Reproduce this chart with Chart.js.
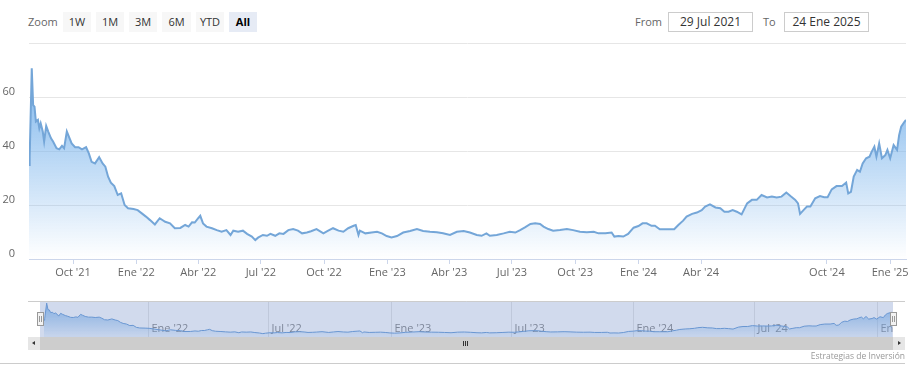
<!DOCTYPE html>
<html><head><meta charset="utf-8">
<script src="https://cdn.jsdelivr.net/npm/chart.js@4.4.0/dist/chart.umd.min.js"></script>
<style>
html,body{margin:0;padding:0;background:#fff;}
body{width:915px;height:375px;position:relative;overflow:hidden;font-family:"Open Sans",sans-serif;}
.abs{position:absolute;}
.lbl{top:12px;font-size:11px;color:#666;line-height:20px;}
.btn{top:12px;height:20px;background:#f7f7f7;color:#333;font-size:11px;line-height:20px;text-align:center;}
.btn.sel{background:#e6ebf5;color:#000;font-weight:bold;}
.inp{top:12px;height:18px;border:1px solid #ccc;font-size:12px;color:#333;line-height:18px;text-align:center;background:#fff;}
#main{position:absolute;left:0;top:0;}
#nav{position:absolute;left:0;top:301px;}
.handle{position:absolute;top:312px;width:5px;height:12px;background:#f2f2f2;border:1px solid #999;}
.handle i{position:absolute;top:3px;width:1px;height:6px;background:#999;}
.sb{position:absolute;top:337px;height:13px;}
</style></head><body>
<div class="abs lbl" style="left:28px">Zoom</div>
<div class="abs btn" style="left:63px;width:28px">1W</div>
<div class="abs btn" style="left:96px;width:28px">1M</div>
<div class="abs btn" style="left:129px;width:28px">3M</div>
<div class="abs btn" style="left:162px;width:29px">6M</div>
<div class="abs btn" style="left:196px;width:28px">YTD</div>
<div class="abs btn sel" style="left:229px;width:28px">All</div>
<div class="abs lbl" style="left:635px">From</div>
<div class="abs inp" style="left:668px;width:83px">29 Jul 2021</div>
<div class="abs lbl" style="left:763px">To</div>
<div class="abs inp" style="left:784px;width:83px">24 Ene 2025</div>

<canvas id="main" width="915" height="290"></canvas>
<canvas id="nav" width="915" height="36"></canvas>

<div class="handle" style="left:37px"><i style="left:1px"></i><i style="left:3px"></i></div>
<div class="handle" style="left:890px"><i style="left:1px"></i><i style="left:3px"></i></div>

<div class="sb" style="left:28px;width:12px;background:#e6e6e6;"></div>
<div class="sb" style="left:40px;width:853px;background:#cdcdcd;"></div>
<div class="sb" style="left:893px;width:12px;background:#e6e6e6;"></div>
<div class="abs" style="left:32px;top:341px;width:0;height:0;border-top:2.5px solid transparent;border-bottom:2.5px solid transparent;border-right:3px solid #333;"></div>
<div class="abs" style="left:898px;top:341px;width:0;height:0;border-top:2.5px solid transparent;border-bottom:2.5px solid transparent;border-left:3px solid #333;"></div>
<div class="abs" style="left:463px;top:341px;width:1px;height:5px;background:#333"></div>
<div class="abs" style="left:465px;top:341px;width:1px;height:5px;background:#333"></div>
<div class="abs" style="left:467px;top:341px;width:1px;height:5px;background:#333"></div>

<div class="abs" style="right:10px;top:350px;font-size:8.5px;color:#999;line-height:11px;">Estrategias de Inversión</div>
<div class="abs" style="left:0;top:363px;width:905px;height:1px;background:#ccc"></div>

<script>
// Start date of the series: 29 Jul 2021 (day 0)
const startDate = '2021-07-29';
// Days since start date
const dayOffsets = [0,1,4,6,8,10,13,15,17,20,22,25,28,32,35,40,44,48,51,55,58,62,67,72,77,83,87,91,96,102,107,111,115,119,124,129,134,139,144,152,158,164,170,176,183,190,198,205,212,220,227,232,237,241,246,249,253,258,266,273,280,287,293,297,304,311,317,324,329,333,340,346,351,358,364,370,377,384,391,397,404,410,418,428,435,442,450,457,464,472,475,479,481,489,498,506,513,520,527,535,544,554,564,573,583,593,602,612,622,632,641,651,658,665,670,680,690,699,707,714,721,729,736,743,748,755,762,772,782,791,801,811,821,828,838,847,851,857,864,871,879,886,892,898,905,910,917,925,932,938,944,951,956,964,971,978,983,990,998,1005,1011,1017,1023,1029,1036,1044,1051,1058,1065,1073,1080,1087,1094,1101,1107,1114,1118,1121,1126,1131,1136,1143,1150,1156,1161,1167,1174,1182,1188,1191,1195,1199,1204,1208,1212,1217,1222,1225,1229,1232,1236,1240,1245,1248,1252,1257,1262,1265,1268,1273,1275];
const prices = [34.8,37.9,70.6,57,56.4,50.9,51.5,48.4,50.2,47.2,43.5,49.3,47.2,44.7,43.5,41,40.6,41.9,41,47.2,45.3,42.8,41.4,41.4,40.6,41.4,39.1,36,35.4,37.7,35.4,34.2,30.5,28.3,27,23.7,24.3,20,18.8,18.5,18.1,16.9,15.7,14.4,12.8,15.1,13.8,13.2,11.4,11.5,12.6,12,13.6,13.5,15.1,16,13.2,12,11.4,10.7,10.1,10.7,8.9,10.5,10.1,10.5,9.3,8.3,7,7.9,8.9,8.6,9.3,8.6,9.5,9.3,10.7,11.1,10.5,9.5,9.8,10.3,11.1,9.5,10.5,11.4,10.5,10.1,11.4,12.3,12.6,8.9,10.5,9.5,9.8,10.1,9.5,8.5,8,8.5,9.8,10.4,11.1,10.4,10.1,9.9,9.5,8.9,10.1,10.4,9.8,8.9,8.6,9.5,8.6,8.9,9.5,10.1,9.8,10.7,11.7,13,13.2,13,12,11.1,10.5,10.7,11.1,10.7,10.1,9.9,10.1,9.5,9.5,9.8,8.3,8.5,8.3,9.3,11.6,12.2,13.2,13.2,12.3,12.3,11,11,11,11,12.6,14.2,15.7,16.7,17.2,18.1,19.4,20.2,19.1,18.8,17.5,17.5,18.1,17.5,16.5,20.6,21.9,21.9,23.7,22.8,23.1,22.8,23.1,24.6,23.3,21.9,20.6,16.7,18.1,19.4,19.4,22.5,23.3,22.9,22.9,25.8,27,27,28.3,24.3,24.9,30.5,33,32.3,35.4,37.3,37.9,39.7,41.6,37.9,42.8,37.3,38.5,40.4,37.3,42.2,40.4,45.9,49,50.9,51.5];
const endDate = '2025-01-24';

const xTickDates = ['2021-10-01','2022-01-01','2022-04-01','2022-07-01','2022-10-01','2023-01-01','2023-04-01','2023-07-01','2023-10-01','2024-01-01','2024-04-01','2024-10-01','2025-01-01'];
const xTickLabels = ["Oct '21","Ene '22","Abr '22","Jul '22","Oct '22","Ene '23","Abr '23","Jul '23","Oct '23","Ene '24","Abr '24","Oct '24","Ene '25"];
const navTickDates = ['2022-01-01','2022-07-01','2023-01-01','2023-07-01','2024-01-01','2024-07-01','2025-01-01'];
const navTickLabels = ["Ene '22","Jul '22","Ene '23","Jul '23","Ene '24","Jul '24","En…"];
const yTickValues = [0,20,40,60,80];
const yTickLabels = ['0','20','40','60',''];

const dayOf = s => Math.round((Date.parse(s) - Date.parse(startDate)) / 86400000);
const xTicks = xTickDates.map(dayOf);
const navTicks = navTickDates.map(dayOf);
const lastDay = dayOf(endDate);
const points = dayOffsets.map((d, i) => ({x: d, y: prices[i]}));
const maxPrice = Math.max(...prices);

const FONT = '"Open Sans", sans-serif';

new Chart(document.getElementById('main'), {
  type: 'line',
  data: { datasets: [{
    data: points,
    borderColor: '#74a6d8',
    borderWidth: 2,
    pointRadius: 0,
    tension: 0,
    fill: 'origin',
    backgroundColor: (ctx) => {
      const c = ctx.chart; const ca = c.chartArea;
      if (!ca) return 'rgba(124,181,236,0.4)';
      const top = c.scales.y.getPixelForValue(maxPrice);
      const g = c.ctx.createLinearGradient(0, top, 0, ca.bottom);
      g.addColorStop(0, 'rgba(124,181,236,1)');
      g.addColorStop(1, 'rgba(124,181,236,0)');
      return g;
    }
  }]},
  options: {
    responsive: false, animation: false, devicePixelRatio: 1,
    layout: { padding: { left: 0, right: 9, top: 43, bottom: 0 } },
    plugins: { legend: { display: false }, tooltip: { enabled: false } },
    scales: {
      x: {
        type: 'linear', min: 0, max: lastDay,
        afterBuildTicks: s => { s.ticks = xTicks.map(v => ({ value: v })); },
        afterFit: s => { s.height = 31; },
        grid: { drawOnChartArea: false, drawTicks: true, tickLength: 5, color: '#ccd6eb' },
        border: { display: true, color: '#ccd6eb' },
        ticks: {
          autoSkip: false, maxRotation: 0, padding: 2, color: '#666',
          font: { family: FONT, size: 11 },
          callback: (v) => { const i = xTicks.indexOf(v); return i >= 0 ? xTickLabels[i] : ''; }
        }
      },
      y: {
        min: 0, max: 80,
        afterBuildTicks: s => { s.ticks = yTickValues.map(v => ({ value: v })); },
        afterFit: s => { s.width = 29; },
        grid: { color: '#e6e6e6', drawTicks: false },
        border: { display: false },
        ticks: {
          padding: 14, labelOffset: -5, color: '#666',
          font: { family: FONT, size: 11 },
          callback: (v) => { const i = yTickValues.indexOf(v); return i >= 0 ? yTickLabels[i] : ''; }
        }
      }
    }
  }
});

const navDecor = {
  id: 'navDecor',
  beforeDatasetsDraw(chart) {
    const { ctx, chartArea: ca, scales } = chart;
    ctx.save();
    ctx.beginPath();
    ctx.rect(ca.left - 4, 0, ca.right - ca.left + 5, chart.height);
    ctx.clip();
    ctx.strokeStyle = '#e6e6e6'; ctx.lineWidth = 1;
    ctx.fillStyle = '#888';
    ctx.font = '11px ' + FONT;
    ctx.textAlign = 'left'; ctx.textBaseline = 'middle';
    navTicks.forEach((d, i) => {
      const x = Math.round(scales.x.getPixelForValue(d)) + 0.5;
      ctx.beginPath(); ctx.moveTo(x, 0); ctx.lineTo(x, chart.height); ctx.stroke();
      ctx.fillText(navTickLabels[i], x + 3, 28);
    });
    ctx.restore();
  },
  afterDatasetsDraw(chart) {
    const { ctx, chartArea: ca } = chart;
    ctx.save();
    ctx.fillStyle = 'rgba(102,133,194,0.3)';
    ctx.fillRect(ca.left - 4, 0, ca.right - ca.left + 5, chart.height);
    ctx.strokeStyle = '#cccccc'; ctx.lineWidth = 1;
    ctx.beginPath(); ctx.moveTo(28, 0.5); ctx.lineTo(905, 0.5); ctx.stroke();
    ctx.restore();
  }
};

new Chart(document.getElementById('nav'), {
  type: 'line',
  data: { datasets: [{
    data: points,
    borderColor: '#6a9ed8',
    borderWidth: 1,
    pointRadius: 0,
    tension: 0,
    fill: 'origin',
    backgroundColor: (ctx) => {
      const c = ctx.chart; const ca = c.chartArea;
      if (!ca) return 'rgba(124,181,236,0.5)';
      const top = c.scales.y.getPixelForValue(maxPrice);
      const g = c.ctx.createLinearGradient(0, top, 0, ca.bottom);
      g.addColorStop(0, 'rgba(124,181,236,0.85)');
      g.addColorStop(1, 'rgba(124,181,236,0.1)');
      return g;
    }
  }]},
  options: {
    responsive: false, animation: false, devicePixelRatio: 1,
    layout: { padding: { left: 44, right: 23, top: 0, bottom: 0 } },
    plugins: { legend: { display: false }, tooltip: { enabled: false } },
    scales: {
      x: { type: 'linear', min: 0, max: lastDay, display: false },
      y: { min: 0, max: 75, display: false }
    }
  },
  plugins: [navDecor]
});
</script>
</body></html>
